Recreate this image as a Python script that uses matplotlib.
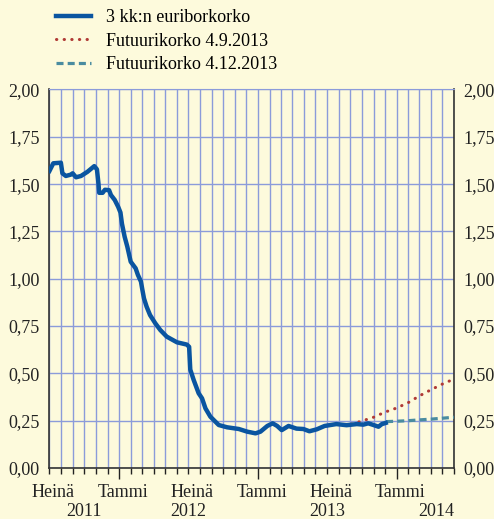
import numpy as np
import matplotlib
matplotlib.use("Agg")
import matplotlib.pyplot as plt
import matplotlib.dates as mdates
import pandas as pd

# 3 kk:n euriborkorko
euribor_dates = ["2011-07-01", "2011-07-11", "2011-07-31", "2011-08-04", "2011-08-13",
                 "2011-08-26", "2011-08-31", "2011-09-09", "2011-09-22", "2011-10-09",
                 "2011-10-27", "2011-11-03", "2011-11-07", "2011-11-09", "2011-11-18",
                 "2011-11-24", "2011-12-05", "2011-12-10", "2011-12-20", "2011-12-29",
                 "2012-01-04", "2012-01-08", "2012-01-15", "2012-01-22", "2012-01-31",
                 "2012-02-13", "2012-02-19", "2012-02-27", "2012-03-01", "2012-03-06",
                 "2012-03-13", "2012-03-22", "2012-04-05", "2012-04-18", "2012-05-05",
                 "2012-06-01", "2012-06-27", "2012-07-03", "2012-07-06", "2012-07-15",
                 "2012-07-28", "2012-08-06", "2012-08-15", "2012-08-28", "2012-09-19",
                 "2012-10-11", "2012-11-11", "2012-12-03", "2012-12-25", "2013-01-07",
                 "2013-01-25", "2013-02-08", "2013-02-20", "2013-03-04", "2013-03-22",
                 "2013-04-12", "2013-04-30", "2013-05-16", "2013-06-04", "2013-06-25",
                 "2013-07-26", "2013-08-22", "2013-09-18", "2013-10-05", "2013-10-18",
                 "2013-11-01", "2013-11-14", "2013-11-23", "2013-12-03"]
euribor = [1.57, 1.61, 1.613, 1.557, 1.543,
           1.55, 1.557, 1.536, 1.543, 1.565,
           1.595, 1.578, 1.504, 1.454, 1.454,
           1.47, 1.468, 1.442, 1.416, 1.38,
           1.35, 1.29, 1.222, 1.17, 1.09,
           1.055, 1.02, 0.985, 0.95, 0.896,
           0.852, 0.808, 0.764, 0.729, 0.694,
           0.664, 0.652, 0.64, 0.52, 0.465,
           0.395, 0.368, 0.315, 0.271, 0.227,
           0.215, 0.206, 0.192, 0.183, 0.192,
           0.222, 0.236, 0.222, 0.2, 0.222,
           0.208, 0.206, 0.194, 0.204, 0.222,
           0.232, 0.226, 0.232, 0.229, 0.236,
           0.227, 0.218, 0.232, 0.238]

# Futuurikorko 4.9.2013
fut_sep_dates = ["2013-09-04", "2013-10-01", "2013-11-01", "2013-12-01", "2014-01-01",
                 "2014-02-01", "2014-03-01", "2014-04-01", "2014-05-01", "2014-06-01"]
fut_sep = [0.232, 0.248, 0.268, 0.295, 0.317, 0.346, 0.38, 0.413, 0.443, 0.47]

# Futuurikorko 4.12.2013
fut_dec_dates = ["2013-12-04", "2014-01-01", "2014-02-01", "2014-03-01",
                 "2014-04-01", "2014-05-01", "2014-06-01"]
fut_dec = [0.245, 0.247, 0.25, 0.254, 0.258, 0.263, 0.268]

labels = ["3 kk:n euriborkorko", "Futuurikorko 4.9.2013", "Futuurikorko 4.12.2013"]
month_labels = ["Heinä", "Tammi", "Heinä", "Tammi", "Heinä", "Tammi"]
month_label_dates = ["2011-07-01", "2012-01-01", "2012-07-01", "2013-01-01", "2013-07-01", "2014-01-01"]
year_labels = ["2011", "2012", "2013", "2014"]
year_label_dates = ["2011-10-01", "2012-07-01", "2013-07-01", "2014-04-15"]

bg = "#FDFADC"
gridc = "#8B9BDA"

plt.rcParams['font.family'] = ['Liberation Serif', 'DejaVu Serif']
plt.rcParams["font.size"] = 13

fig = plt.figure(figsize=(4.94, 5.19), dpi=100, facecolor=bg)
ax = fig.add_axes([0.1002, 0.0983, 0.8188, 0.7293])
ax.set_facecolor(bg)

ax.plot(pd.to_datetime(euribor_dates), euribor, c="#0A55A0", lw=3.2,
        solid_joinstyle="round", label=labels[0], zorder=4)
ax.plot(pd.to_datetime(fut_sep_dates), fut_sep, c="#B03A35", lw=2.2,
        ls=(0, (0.1, 2.4)), dash_capstyle="round", label=labels[1], zorder=3)
ax.plot(pd.to_datetime(fut_dec_dates), fut_dec, c="#4A8CA0", lw=2.3,
        ls=(0, (2.2, 1.3)), label=labels[2], zorder=3)

ax.set_xlim(pd.Timestamp("2011-07-01"), pd.Timestamp("2014-06-01"))
ax.set_ylim(0, 2.0)
ax.set_yticks(np.arange(0, 2.01, 0.25))
ax.yaxis.set_major_formatter(plt.FuncFormatter(lambda v, p: f"{v:.2f}".replace(".", ",")))
ax.tick_params(axis="y", length=0, pad=7, labelright=True, labelsize=13, colors="#222222")

# monthly ticks, longer at year change
ax.xaxis.set_major_locator(mdates.YearLocator())
ax.xaxis.set_minor_locator(mdates.MonthLocator())
ax.xaxis.set_major_formatter(plt.NullFormatter())
ax.tick_params(axis="x", which="major", length=8, width=1, color="#222222", direction="out")
ax.tick_params(axis="x", which="minor", length=4, width=1, color="#222222", direction="out")

ax.grid(True, which="minor", axis="x", color=gridc, lw=1)
ax.grid(True, which="major", axis="x", color=gridc, lw=1)
ax.grid(True, axis="y", color=gridc, lw=1)
ax.set_axisbelow(True)

for s in ["left", "right", "bottom"]:
    ax.spines[s].set_color("#333333")
    ax.spines[s].set_linewidth(1.2)
ax.spines["top"].set_color(gridc)

trans = ax.get_xaxis_transform()
for lab, d in zip(month_labels, month_label_dates):
    ax.text(pd.Timestamp(d) + pd.Timedelta(days=10), -0.042, lab, transform=trans,
            ha="center", va="top", fontsize=13, color="#222222")
for lab, d in zip(year_labels, year_label_dates):
    ax.text(pd.Timestamp(d), -0.093, lab, transform=trans,
            ha="center", va="top", fontsize=13, color="#222222")

fig.legend(loc="upper left", bbox_to_anchor=(56 / 494, 1 - 9 / 519), frameon=False,
           borderpad=0, borderaxespad=0, handlelength=1.95, handletextpad=0.8,
           labelspacing=0.36, fontsize=13)

plt.savefig("out.png", dpi=100, facecolor=bg)
